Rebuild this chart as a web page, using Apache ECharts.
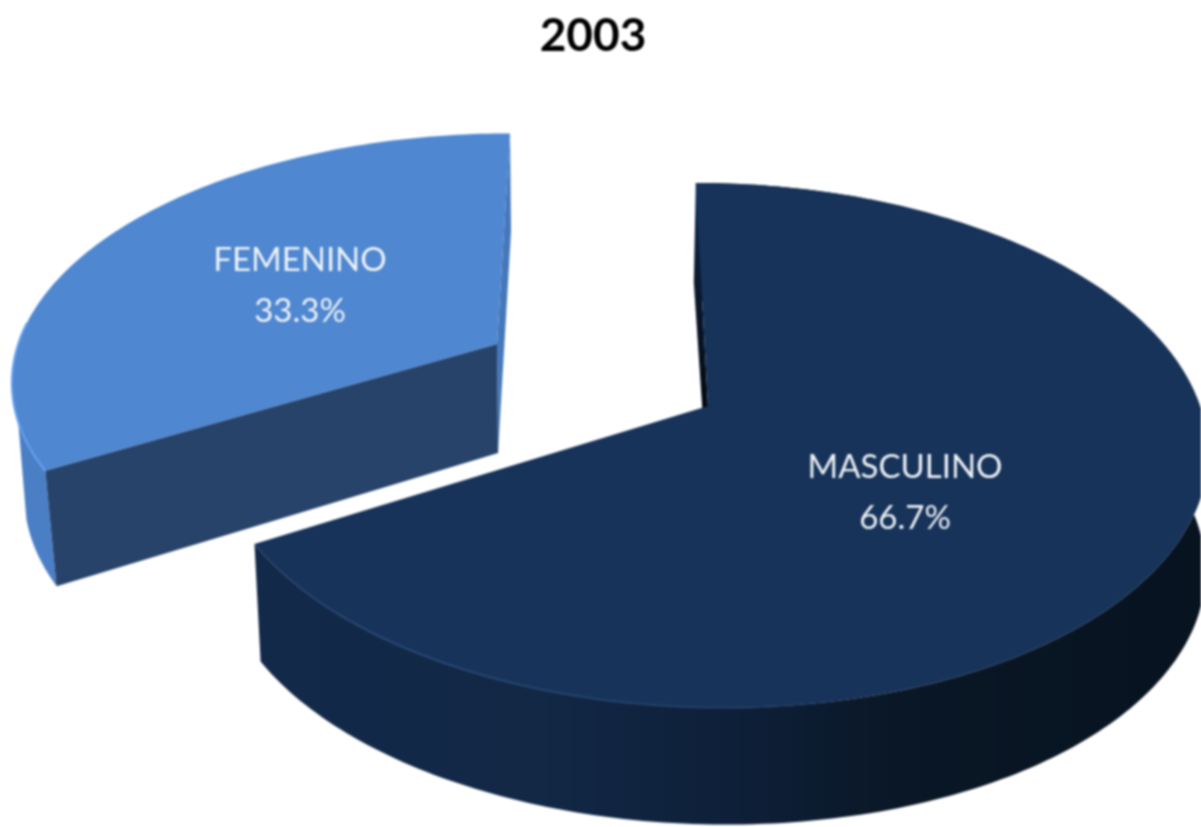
<!DOCTYPE html>
<html>
<head>
<meta charset="utf-8">
<script src="https://cdn.jsdelivr.net/npm/echarts@6/dist/echarts.min.js"></script>
<style>
html,body{margin:0;padding:0;background:#fff;overflow:hidden}
#c{width:1201px;height:827px;filter:blur(0.8px)}
</style>
</head>
<body>
<div id="c"></div>
<script>
const chartTitle = '2003';
const categories = ['MASCULINO', 'FEMENINO'];
const shares = [66.7, 33.3];

// Perspective model of each exploded slice (top face and bottom face of the disc).
const sliceLayout = [
  { top: {ax:708, ay:406, A:492, B:256.5, k:0.15, s:-14},
    low: {ax:710, ay:524, A:487.6, B:255.5, k:0.15, s:-14},
    topFill:'#17335a', label:[905,493], cutOffset:[-4,-19] },
  { top: {ax:497, ay:344, A:478.8, B:238, k:0.13, s:14.7},
    low: {ax:498, ay:453, A:467.7, B:250, k:0.13, s:14.7},
    topFill:'#4f87d1', cutFill:'#27436a', sideFill:'#4578ba', label:[300,286],
    wallTopSpan:25, wallLowSpan:15 }
];

function project(p, deg) {
  const t = deg * Math.PI / 180, u = Math.sin(t), v = Math.cos(t), w = 1 + p.k * v;
  return [p.ax + (p.A * u + p.s * v) / w, p.ay - p.B * v / w];
}
function rim(p, a0, a1) {
  const pts = [], n = Math.max(2, Math.ceil(Math.abs(a1 - a0)));
  for (let i = 0; i <= n; i++) pts.push(project(p, a0 + (a1 - a0) * i / n));
  return pts;
}
const G = (x0, y0, x1, y1, stops) => new echarts.graphic.LinearGradient(x0, y0, x1, y1, stops, true);

const total = shares.reduce((a, b) => a + b, 0);
function sliceAngles(i) {
  let a = 0;
  for (let j = 0; j < i; j++) a += shares[j] / total * 360;
  return [a, a + shares[i] / total * 360];
}

function renderSlice(params, api) {
  const i = params.dataIndex, L = sliceLayout[i];
  const [a0, a1] = sliceAngles(i);
  const topRim = rim(L.top, a0, a1), lowRim = rim(L.low, a0, a1);
  const apex = [L.top.ax, L.top.ay], lowApex = [L.low.ax, L.low.ay];
  const children = [];
  if (i === 0) {
    const wallFill = G(257, 0, 1205, 0, [{offset:0,color:'#13294a'},{offset:0.3,color:'#122845'},{offset:0.5,color:'#0e2039'},{offset:0.68,color:'#0a1726'},{offset:1,color:'#07131f'}]);
    children.push({type:'polygon', shape:{points: topRim.concat(lowRim.slice().reverse())}, style:{fill:wallFill}});
    const p = lowRim[0];
    children.push({type:'polygon', shape:{points:[apex, topRim[0], [p[0]+L.cutOffset[0], p[1]+L.cutOffset[1]], lowApex]},
      style:{fill:G(0,183,0,408,[{offset:0,color:'#17335a'},{offset:0.3,color:'#0c1e38'},{offset:1,color:'#030a14'}])}});
  } else {
    const wallTop = rim(L.top, a0, a0 + L.wallTopSpan), wallLow = rim(L.low, a0, a0 + L.wallLowSpan);
    children.push({type:'polygon', shape:{points: wallTop.concat(wallLow.reverse())}, style:{fill:'#4a7fc6'}});
    children.push({type:'polygon', shape:{points:[apex, topRim[topRim.length-1], lowRim[lowRim.length-1], lowApex]}, style:{fill:L.sideFill}});
    children.push({type:'polygon', shape:{points:[apex, topRim[0], lowRim[0], lowApex]}, style:{fill:L.cutFill}});
  }
  children.push({type:'polygon', shape:{points:[apex].concat(topRim)}, style:{fill:L.topFill}});
  if (i === 0) {
    children.push({type:'polyline', shape:{points:rim(L.top, 120, a1)},
      style:{fill:'none', lineWidth:1.5, stroke:G(257,0,900,0,[{offset:0,color:'rgba(44,78,124,0.3)'},{offset:0.2,color:'#2d4f7e'},{offset:0.65,color:'#25456f'},{offset:1,color:'rgba(23,51,90,0)'}])}});
  } else {
    children.push({type:'polyline', shape:{points:rim(L.top, a0, a0 + 35)},
      style:{fill:'none', lineWidth:2, stroke:'#66a2f0'}});
  }
  children.push({type:'text', style:{
    text: categories[i] + '\n' + api.value(0).toFixed(1) + '%',
    x: L.label[0], y: L.label[1], align:'center', verticalAlign:'middle',
    fill:'#eef2f6', fontFamily:'Lato', fontSize:33, lineHeight:51
  }});
  return {type:'group', children};
}

const chart = echarts.init(document.getElementById('c'), null, {renderer:'canvas'});
chart.setOption({
  animation:false,
  backgroundColor:'#fff',
  title:{text:chartTitle, left:588, top:8, textAlign:'center',
    textStyle:{fontFamily:'Lato', fontWeight:'bold', fontSize:46, color:'#000'}},
  series:[{
    type:'custom', coordinateSystem:'none', renderItem:renderSlice,
    data: shares.map((v, i) => ({name:categories[i], value:[v]}))
  }]
});
</script>
</body>
</html>
